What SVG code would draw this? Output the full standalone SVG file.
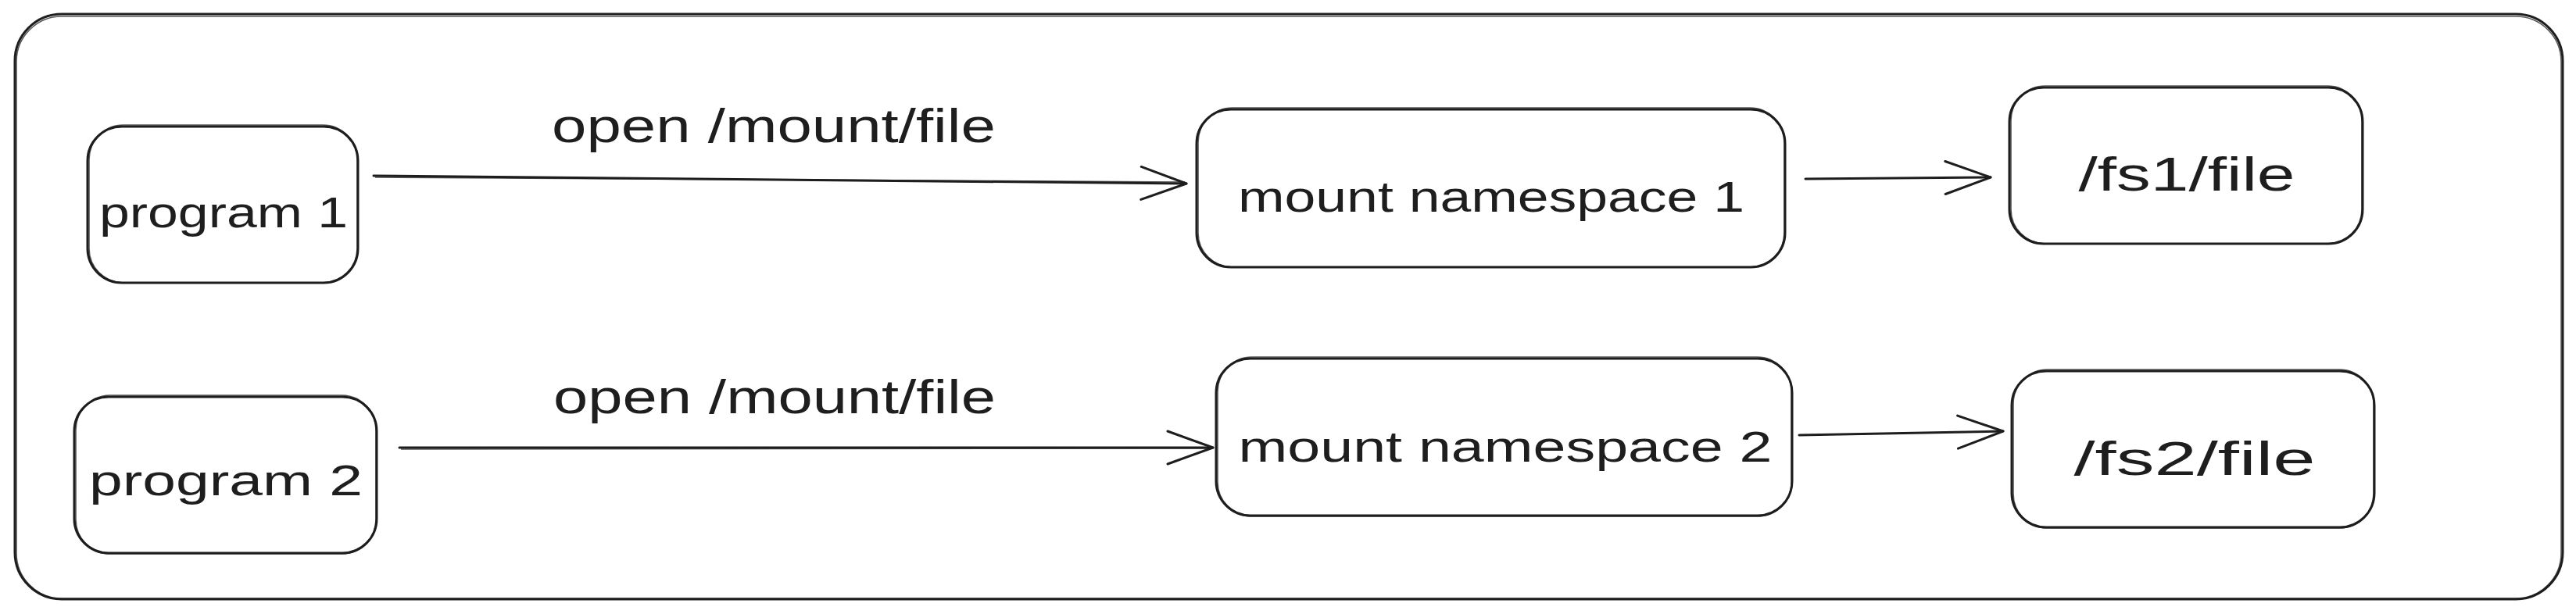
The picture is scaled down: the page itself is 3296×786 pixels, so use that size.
<svg xmlns="http://www.w3.org/2000/svg" width="3296" height="786" viewBox="0 0 3296 786">
<style>
.box{fill:none;stroke:#1e1e1e;stroke-width:3;stroke-linecap:round;stroke-linejoin:round}
.ghost{fill:none;stroke:#1e1e1e;stroke-width:1.6;opacity:0.75}
.lbl{font-family:"Liberation Sans","Noto Sans",sans-serif;fill:#1e1e1e;text-anchor:middle}
.n{font-size:56px}
.b{font-size:62px}
.edge{fill:none;stroke:#1e1e1e;stroke-width:3;stroke-linecap:round}
</style>
<defs>
<marker id="ah" viewBox="-64 -28 70 56" markerWidth="70" markerHeight="56" refX="0" refY="0" orient="auto" markerUnits="userSpaceOnUse">
<path d="M -58 -21 L 0 0 L -58 21" fill="none" stroke="#1e1e1e" stroke-width="3" stroke-linecap="round" stroke-linejoin="round"/>
</marker>
</defs>
<rect width="3296" height="786" fill="#ffffff"/>
<g id="frame">
<rect class="box" x="19" y="18" width="3260" height="749" rx="60" ry="60"/>
<rect class="ghost" x="21" y="21" width="3256" height="745" rx="58" ry="58"/>
</g>
<g id="program1">
<rect class="box" x="112" y="162" width="346" height="200" rx="44" ry="44"/>
<rect class="ghost" x="114" y="160" width="343" height="202" rx="44" ry="44"/>
<text class="lbl n" x="286" y="291" textLength="318" lengthAdjust="spacingAndGlyphs">program 1</text>
</g>
<g id="program2">
<rect class="box" x="95" y="508" width="387" height="200" rx="44" ry="44"/>
<rect class="ghost" x="97" y="506" width="384" height="203" rx="44" ry="44"/>
<text class="lbl n" x="289" y="634" textLength="350" lengthAdjust="spacingAndGlyphs">program 2</text>
</g>
<g id="mountns1">
<rect class="box" x="1531" y="140" width="753" height="202" rx="44" ry="44"/>
<rect class="ghost" x="1533" y="138" width="750" height="204" rx="44" ry="44"/>
<text class="lbl n" x="1908" y="271" textLength="648" lengthAdjust="spacingAndGlyphs">mount namespace 1</text>
</g>
<g id="mountns2">
<rect class="box" x="1556" y="459" width="737" height="201" rx="44" ry="44"/>
<rect class="ghost" x="1558" y="457" width="734" height="204" rx="44" ry="44"/>
<text class="lbl n" x="1926" y="591" textLength="683" lengthAdjust="spacingAndGlyphs">mount namespace 2</text>
</g>
<g id="fs1">
<rect class="box" x="2571" y="112" width="452" height="200" rx="44" ry="44"/>
<rect class="ghost" x="2573" y="110" width="449" height="202" rx="44" ry="44"/>
<text class="lbl b" x="2798" y="244" textLength="277" lengthAdjust="spacingAndGlyphs">/fs1/file</text>
</g>
<g id="fs2">
<rect class="box" x="2574" y="475" width="464" height="200" rx="44" ry="44"/>
<rect class="ghost" x="2576" y="473" width="461" height="203" rx="44" ry="44"/>
<text class="lbl b" x="2808" y="608" textLength="309" lengthAdjust="spacingAndGlyphs">/fs2/file</text>
</g>
<g id="connectors">
<path class="edge" d="M 478 225 L 1518 235" marker-end="url(#ah)"/>
<path class="ghost" d="M 480 227 L 1516 233"/>
<path class="edge" d="M 511 573 L 1552 573" marker-end="url(#ah)"/>
<path class="ghost" d="M 513 575 L 1550 574"/>
<path class="edge" d="M 2310 229 L 2547 227" marker-end="url(#ah)"/>
<path class="edge" d="M 2302 557 L 2563 552" marker-end="url(#ah)"/>
<text class="lbl b" x="990" y="182" textLength="568" lengthAdjust="spacingAndGlyphs">open /mount/file</text>
<text class="lbl b" x="991" y="529" textLength="566" lengthAdjust="spacingAndGlyphs">open /mount/file</text>
</g>
</svg>
